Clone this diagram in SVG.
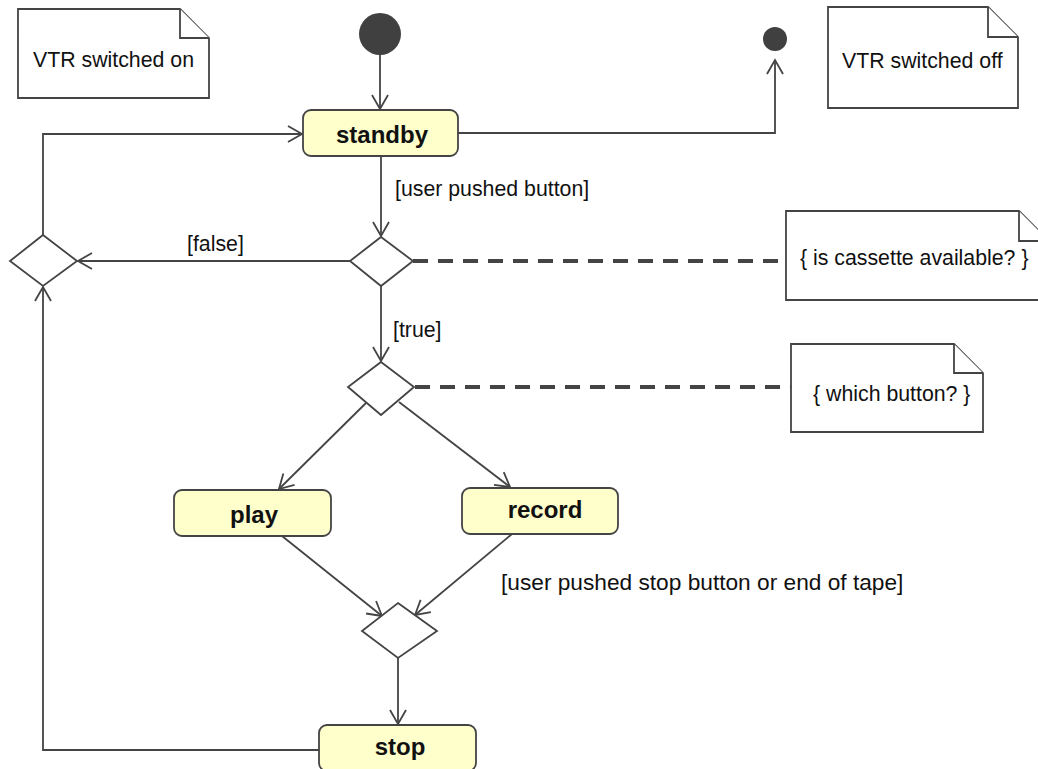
<svg xmlns="http://www.w3.org/2000/svg" width="1038" height="769" viewBox="0 0 1038 769">
  <style>
    .note { fill: #ffffff; stroke: #444444; stroke-width: 1.8; }
    .state { fill: #ffffcc; stroke: #444444; stroke-width: 1.8; }
    .decision { fill: #ffffff; stroke: #444444; stroke-width: 1.8; }
    .flow { fill: none; stroke: #444444; stroke-width: 1.8; }
    .anchor { fill: none; stroke: #444444; stroke-width: 4; stroke-dasharray: 15 10; }
    .txt { font-family: "Liberation Sans", Arial, sans-serif; font-size: 21.3px; fill: #111111; }
    .big { font-size: 22.7px; }
    .bold { font-family: "Liberation Sans", Arial, sans-serif; font-size: 24px; font-weight: bold; fill: #111111; text-anchor: middle; }
  </style>
  <defs>
    <marker id="open-arrow" markerUnits="userSpaceOnUse" markerWidth="20" markerHeight="20" viewBox="-16 -10 20 20" refX="0" refY="0" orient="auto" overflow="visible">
      <path d="M -14 -8 L 0 0 L -14 8" fill="none" stroke="#444444" stroke-width="1.8"/>
    </marker>
  </defs>

  <rect width="1038" height="769" fill="#ffffff"/>

  <!-- connectors -->
  <g id="connectors">
    <path class="flow" d="M 380 55 L 380 109" marker-end="url(#open-arrow)"/>
    <path class="flow" d="M 458 133 L 775 133 L 775 60" marker-end="url(#open-arrow)"/>
    <path class="flow" d="M 381 156 L 381 236" marker-end="url(#open-arrow)"/>
    <path class="flow" d="M 350 261 L 78 261" marker-end="url(#open-arrow)"/>
    <path class="flow" d="M 43 235 L 43 134 L 302 134" marker-end="url(#open-arrow)"/>
    <path class="flow" d="M 381 286 L 381 361" marker-end="url(#open-arrow)"/>
    <path class="flow" d="M 366 403 L 279 489" marker-end="url(#open-arrow)"/>
    <path class="flow" d="M 399 402 L 510 487" marker-end="url(#open-arrow)"/>
    <path class="flow" d="M 282 536 L 382 616" marker-end="url(#open-arrow)"/>
    <path class="flow" d="M 512 534 L 415 615" marker-end="url(#open-arrow)"/>
    <path class="flow" d="M 398 658 L 398 724" marker-end="url(#open-arrow)"/>
    <path class="flow" d="M 319 750 L 43 750 L 43 287" marker-end="url(#open-arrow)"/>
    <path class="anchor" d="M 413 261 L 786 261"/>
    <path class="anchor" d="M 415 387 L 791 387"/>

    <text class="txt" x="395" y="196">[user pushed button]</text>
    <text class="txt" x="187" y="251">[false]</text>
    <text class="txt" x="393" y="337">[true]</text>
    <text class="txt big" x="501" y="590">[user pushed stop button or end of tape]</text>
  </g>

  <!-- notes -->
  <g id="note-on">
    <path class="note" d="M 18 9 L 180 9 L 209 38 L 209 98 L 18 98 Z"/>
    <path class="note" d="M 180 9 L 180 38 L 209 38"/>
    <text class="txt" x="33" y="67">VTR switched on</text>
  </g>
  <g id="note-off">
    <path class="note" d="M 828 7 L 988 7 L 1018 37 L 1018 108 L 828 108 Z"/>
    <path class="note" d="M 988 7 L 988 37 L 1018 37"/>
    <text class="txt" x="842" y="68">VTR switched off</text>
  </g>
  <g id="note-cassette">
    <path class="note" d="M 786 211 L 1019 211 L 1049 241 L 1049 300 L 786 300 Z"/>
    <path class="note" d="M 1019 211 L 1019 241 L 1049 241"/>
    <text class="txt" x="800" y="265">{ is cassette available? }</text>
  </g>
  <g id="note-button">
    <path class="note" d="M 791 344 L 954 344 L 983 373 L 983 432 L 791 432 Z"/>
    <path class="note" d="M 954 344 L 954 373 L 983 373"/>
    <text class="txt" x="813" y="401">{ which button? }</text>
  </g>

  <!-- start / end -->
  <g id="start">
    <circle cx="380" cy="34" r="21" fill="#404040"/>
  </g>
  <g id="end">
    <circle cx="775" cy="39" r="12" fill="#404040"/>
  </g>

  <!-- states -->
  <g id="standby">
    <rect class="state" x="303" y="110" width="155" height="46" rx="8"/>
    <text class="bold" x="382" y="143">standby</text>
  </g>
  <g id="play">
    <rect class="state" x="174" y="490" width="157" height="46" rx="8"/>
    <text class="bold" x="254" y="523">play</text>
  </g>
  <g id="record">
    <rect class="state" x="462" y="488" width="156" height="46" rx="8"/>
    <text class="bold" x="545" y="518">record</text>
  </g>
  <g id="stop">
    <rect class="state" x="319" y="725" width="157" height="46" rx="8"/>
    <text class="bold" x="400" y="755">stop</text>
  </g>

  <!-- decisions -->
  <g id="merge-left">
    <path class="decision" d="M 43 235 L 77 261 L 43 286 L 10 261 Z"/>
  </g>
  <g id="cassette-check">
    <path class="decision" d="M 381 237 L 413 261 L 381 286 L 350 261 Z"/>
  </g>
  <g id="button-check">
    <path class="decision" d="M 381 362 L 414 387 L 381 415 L 348 387 Z"/>
  </g>
  <g id="merge-stop">
    <path class="decision" d="M 398 603 L 437 631 L 398 658 L 362 631 Z"/>
  </g>
</svg>
